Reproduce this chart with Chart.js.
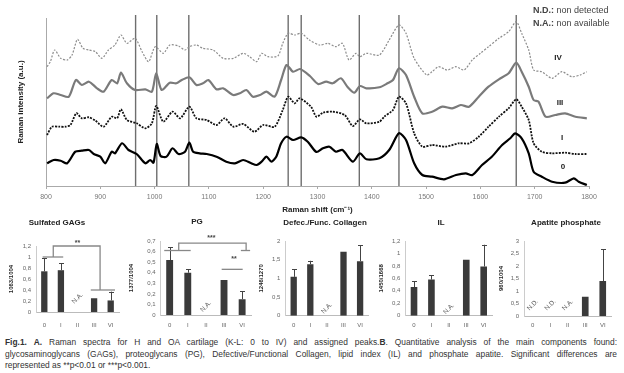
<!DOCTYPE html>
<html><head><meta charset="utf-8">
<script src="https://cdn.jsdelivr.net/npm/chart.js@4.4.0/dist/chart.umd.min.js"></script>
<style>
html,body{margin:0;padding:0;background:#fff;width:624px;height:373px;overflow:hidden;position:relative;font-family:"Liberation Sans",Arial,sans-serif;}
canvas{position:absolute;}
.t{position:absolute;white-space:nowrap;color:#222;font-weight:bold;font-size:8px;transform:translate(-50%,-50%);}
.lg{position:absolute;left:533px;white-space:nowrap;color:#444;font-size:9px;transform:translateY(-50%);}
.cap{position:absolute;left:5px;width:612px;font-size:8.4px;color:#333;line-height:11.5px;}
.cap div{white-space:nowrap;}
.cap .j{text-align:justify;text-align-last:justify;white-space:normal;}
</style></head><body>
<canvas id="main" width="624" height="218" style="left:0;top:0"></canvas>
<canvas id="b1" width="125" height="100" style="left:0;top:230px"></canvas>
<canvas id="b2" width="135" height="100" style="left:120px;top:230px"></canvas>
<canvas id="b3" width="125" height="100" style="left:250px;top:230px"></canvas>
<canvas id="b4" width="127" height="100" style="left:370px;top:230px"></canvas>
<canvas id="b5" width="128" height="100" style="left:490px;top:230px"></canvas>

<div class="lg" style="top:10px"><b>N.D.:</b> non detected</div>
<div class="lg" style="top:23px"><b>N.A.:</b> non available</div>
<div class="t" style="left:558px;top:57px">IV</div>
<div class="t" style="left:560px;top:102px">III</div>
<div class="t" style="left:562px;top:137px">I</div>
<div class="t" style="left:563px;top:166px">0</div>

<div class="t" style="left:57px;top:222px">Sulfated GAGs</div>
<div class="t" style="left:197px;top:221px">PG</div>
<div class="t" style="left:325px;top:222px">Defec./Func. Collagen</div>
<div class="t" style="left:441px;top:222px">IL</div>
<div class="t" style="left:566px;top:222px">Apatite phosphate</div>

<div class="cap" style="top:337px">
<div class="j"><b>Fig.1.</b> <b>A.</b> Raman spectra for H and OA cartilage (K-L: 0 to IV) and assigned peaks.<b>B</b>. Quantitative analysis of the main components found:</div>
<div class="j">glycosaminoglycans (GAGs), proteoglycans (PG), Defective/Functional Collagen, lipid index (IL) and phosphate apatite. Significant differences are</div>
<div>represented as **p&lt;0.01 or ***p&lt;0.001.</div>
</div>

<script>
// ---------- Spectra (A) ----------
const shift0 = [802,814,827,839,854,866,879,888,900,909,921,927,940,952,967,983,992,998,1004,1011,1022,1033,1044,1056,1064,1071,1083,1096,1114,1132,1148,1163,1178,1188,1197,1206,1215,1224,1233,1243,1255,1270,1282,1298,1310,1322,1334,1346,1365,1378,1390,1414,1432,1450,1463,1478,1493,1511,1533,1555,1573,1585,1603,1621,1640,1655,1664,1676,1689,1698,1713,1732,1756,1772,1781,1796];
const int0 = [22.7,26,25.3,22.7,34.3,35.3,36,32,29.3,22.7,34.3,32.7,42.7,36,32,22.7,26,23.3,42,30,29.3,37.7,32,34.3,43.3,34.3,32.7,32,29.3,24.3,22.7,26,22.7,21,24.3,29.3,24.3,29.3,42.7,49.3,46,48.7,44.3,34,37.7,39.3,34.3,36,24.3,32.7,26.7,27.7,36,52.7,46,22.7,11,9.3,6.7,11,12.7,11,21,29.3,41,47.7,52.7,47.7,32.7,14.3,9.3,4.3,3.3,7.7,4.3,1];

const shift1 = [802,811,824,836,845,856,866,879,891,906,921,931,938,949,967,983,995,1003,1016,1033,1047,1064,1077,1096,1114,1129,1145,1163,1184,1200,1221,1236,1246,1258,1267,1288,1298,1310,1328,1350,1365,1378,1390,1414,1423,1439,1450,1463,1478,1493,1511,1536,1560,1579,1597,1615,1634,1652,1666,1676,1689,1698,1713,1732,1756,1775,1796];
const int1 = [51,59.3,59.3,59.3,61,72.7,67.7,68.7,65.3,59.3,69.3,67.7,76.7,66,62.7,57.7,62.7,80,64.3,74.3,67.7,79.3,67.7,66,61,67.7,59.3,62,54.3,61,59.3,76,89.3,82.7,87.7,79.3,69.3,73.3,74.3,71,60,66.7,62.7,64.3,69.3,76,89.3,82.7,52.7,39.3,41,39.3,42.7,42.7,49.3,59.3,69.3,77.7,86.7,79.3,66,42.7,34.3,32.7,33.3,32,32];

const shift3 = [802,814,827,842,855,866,879,894,906,921,931,938,949,964,983,995,1003,1013,1028,1040,1050,1064,1077,1089,1099,1114,1126,1145,1157,1169,1181,1194,1206,1221,1233,1243,1255,1268,1286,1301,1316,1328,1343,1355,1368,1378,1390,1414,1429,1439,1450,1463,1478,1493,1511,1530,1548,1564,1579,1597,1615,1634,1652,1666,1676,1689,1698,1707,1720,1738,1756,1775,1796];
const int3 = [87.7,92.7,91,89.3,106,101,104.3,97.7,94.3,106,102.7,113.3,102.7,96,96.7,94.3,112.7,96,103.3,102.7,106,108.7,101,102.7,106,96.7,97.7,91,92.7,96,89.3,91,94.3,89.3,106,121,114.3,117,110,102,104.3,102.7,107.7,99.3,93.3,100,97.7,98.7,102.7,106,117.7,111,89.3,72.7,74.3,79.3,77.7,81,79.3,89.3,99.3,106.7,112.7,123.3,114.3,99.3,86,84.3,69.3,71,72.7,69.3,67.7];

const shift4 = [802,808,816,827,839,848,858,868,879,891,903,915,927,938,949,964,977,989,1001,1016,1028,1044,1056,1064,1077,1089,1108,1126,1145,1163,1175,1188,1197,1209,1227,1236,1246,1258,1270,1285,1304,1319,1334,1346,1358,1371,1378,1390,1414,1432,1450,1463,1478,1501,1511,1523,1539,1555,1570,1585,1600,1615,1634,1652,1666,1676,1689,1698,1713,1732,1750,1768,1784,1796];
const int4 = [119.3,124.3,136,127.7,126,131,146.7,137.7,136,134.3,127.7,136,141,151,142.7,147.7,134.3,124.3,139.3,132.7,141,140,136,139.3,141,137.7,136,127.7,127.7,132.7,129.3,124.3,132.7,129.3,130,142.7,152.7,151,152.7,146,141,142.7,139.3,142.7,126,132.7,129.3,132.7,131,146,161,152.7,127.7,111,114.3,119.3,116,119.3,116,126,132.7,139.3,147.7,154.3,164.3,152.7,136,116,114.3,107.7,114.3,109.3,111,114.3];

const peakShifts = [965,1004,1063,1246,1270,1377,1450,1666];

const pts = (xs, ys) => xs.map((x,i)=>({x:x,y:ys[i]}));

const peakPlugin = {
  id:'peaks',
  beforeDatasetsDraw(chart){
    const {ctx, chartArea, scales:{x}} = chart;
    ctx.save();
    ctx.strokeStyle='#6e6e6e'; ctx.lineWidth=1.4;
    peakShifts.forEach(p=>{
      const px = x.getPixelForValue(p);
      ctx.beginPath(); ctx.moveTo(px, chartArea.top-3); ctx.lineTo(px, chartArea.bottom); ctx.stroke();
    });
    ctx.restore();
  }
};

new Chart(document.getElementById('main'), {
  type:'line',
  data:{datasets:[
    {label:'IV', data:pts(shift4,int4), borderColor:'#8c8c8c', borderWidth:1.2, borderDash:[2,1.5]},
    {label:'III', data:pts(shift3,int3), borderColor:'#7a7a7a', borderWidth:2.2},
    {label:'I', data:pts(shift1,int1), borderColor:'#111', borderWidth:1.8, borderDash:[2,1.2]},
    {label:'0', data:pts(shift0,int0), borderColor:'#000', borderWidth:2.2}
  ]},
  options:{
    responsive:false, animation:false,
    layout:{padding:{left:0,top:18,right:35,bottom:0}},
    plugins:{legend:{display:false}, tooltip:{enabled:false}},
    elements:{point:{radius:0}, line:{tension:0.25}},
    scales:{
      x:{type:'linear', min:800, max:1800,
         ticks:{stepSize:100, color:'#777', font:{size:7, family:'Liberation Sans'}, padding:4, maxRotation:0, autoSkip:false, callback:v=>String(v)},
         grid:{drawOnChartArea:false, drawTicks:true, tickLength:3, color:'#aaa'},
         border:{color:'#aaa'},
         title:{display:true, text:'Raman shift (cm\u207B\u00B9)', color:'#222', font:{size:8, weight:'bold', family:'Liberation Sans'}, padding:{top:0,bottom:3}},
         afterFit:s=>{s.height=32; s.paddingLeft=0; s.paddingRight=0;}},
      y:{min:0, max:168, ticks:{display:false}, grid:{display:false}, border:{color:'#aaa'},
         title:{display:true, text:'Raman intensity (a.u.)', color:'#222', font:{size:8, weight:'bold', family:'Liberation Sans'}, padding:{top:16,bottom:0}},
         afterFit:s=>{s.width=46; s.paddingTop=0; s.paddingBottom=0;}}
    }
  },
  plugins:[peakPlugin]
});

// ---------- Quantitative analysis (B) ----------
const stages = ['0','I','II','III','VI'];
const gagValues = [0.74, 0.76, null, 0.25, 0.21];
const gagErrors = [0.24, 0.13, 0, 0, 0.16];
const pgValues = [0.52, 0.40, null, 0.33, 0.15];
const pgErrors = [0.12, 0.035, 0, 0, 0.075];
const colValues = [1.04, 1.38, null, 1.71, 1.46];
const colErrors = [0.20, 0.09, 0, 0, 0.43];
const ilValues = [0.46, 0.58, null, 0.90, 0.79];
const ilErrors = [0.09, 0.07, 0, 0, 0.35];
const apValues = [null, null, null, 0.77, 1.40];
const apErrors = [0, 0, 0, 0, 1.27];

const fmt = v => (Math.round(v*10)/10).toString().replace('.', ',');

function annoPlugin(cfg){
  return {
    id:'anno',
    afterDatasetsDraw(chart){
      const {ctx, scales:{x,y}} = chart;
      ctx.save();
      // error bars (upper)
      ctx.strokeStyle = '#444'; ctx.lineWidth = 1;
      cfg.values.forEach((v,i)=>{
        const e = cfg.errors[i];
        if (v==null || !e) return;
        const px = Math.round(x.getPixelForValue(i))+0.5;
        const y1 = y.getPixelForValue(v), y2 = y.getPixelForValue(v+e);
        ctx.beginPath(); ctx.moveTo(px,y1); ctx.lineTo(px,y2);
        ctx.moveTo(px-2.5,Math.round(y2)+0.5); ctx.lineTo(px+2.5,Math.round(y2)+0.5); ctx.stroke();
      });
      // missing labels
      ctx.fillStyle = '#555'; ctx.font = '6.5px "Liberation Sans"';
      ctx.textAlign='center'; ctx.textBaseline='middle';
      (cfg.missing||[]).forEach(([i,txt,v])=>{
        ctx.save(); ctx.translate(x.getPixelForValue(i), y.getPixelForValue(v));
        ctx.rotate(-Math.PI/4); ctx.fillText(txt,0,0); ctx.restore();
      });
      // significance brackets
      ctx.strokeStyle='#888'; ctx.lineWidth=1.3;
      (cfg.lines||[]).forEach(line=>{
        ctx.beginPath();
        line.forEach(([c,v],k)=>{
          const px=x.getPixelForValue(c), py=y.getPixelForValue(v);
          if(k===0) ctx.moveTo(px,py); else ctx.lineTo(px,py);
        });
        ctx.stroke();
      });
      ctx.fillStyle='#444'; ctx.font='bold 7px "Liberation Sans"';
      (cfg.stars||[]).forEach(([c,v,t])=>{
        ctx.fillText(t, x.getPixelForValue(c), y.getPixelForValue(v));
      });
      ctx.restore();
    }
  };
}

function barChart(cfg){
  const cx = cfg.cx, cy = 230, cw = cfg.cw, ch = 100;
  const [pl, pt, pr, pb] = cfg.plot;
  new Chart(document.getElementById(cfg.id), {
    type:'bar',
    data:{labels:stages, datasets:[{data:cfg.values, backgroundColor:'#3a3a3a', barPercentage:0.38, categoryPercentage:1}]},
    options:{
      responsive:false, animation:false,
      layout:{padding:{left:0, top:pt-cy, right:cx+cw-pr, bottom:0}},
      plugins:{legend:{display:false}, tooltip:{enabled:false}},
      scales:{
        x:{grid:{display:false, drawTicks:false}, border:{color:'#bbb'},
           ticks:{color:'#666', font:{size:6, family:'Liberation Sans'}, padding:325-3.6-pb, maxRotation:0, autoSkip:false},
           afterFit:s=>{s.height=cy+ch-pb; s.paddingLeft=0; s.paddingRight=0;}},
        y:{min:0, max:cfg.max, grid:{display:false, drawTicks:false}, border:{color:'#ccc'},
           ticks:{stepSize:cfg.step, color:'#666', font:{size:6, family:'Liberation Sans'}, padding:5, callback:v=>fmt(v)},
           title:{display:true, text:cfg.ytitle, color:'#222', font:{size:6, weight:'bold', family:'Liberation Sans'}, padding:{top:8,bottom:0}},
           afterFit:s=>{s.width=pl-cx; s.paddingTop=0; s.paddingBottom=0;}}
      }
    },
    plugins:[annoPlugin(cfg)]
  });
}

barChart({id:'b1', cx:0, cw:125, plot:[36,246,119,312], max:1.2, step:0.2, ytitle:'1063/1004',
  values:gagValues, errors:gagErrors, missing:[[2,'N.A.',0.25]],
  lines:[[[-0.1,1.0],[1.14,1.0]], [[0.54,1.0],[0.54,1.2],[3.36,1.2],[3.36,0.4]], [[2.8,0.4],[4.26,0.4]]],
  stars:[[2.0,1.25,'**']]});
barChart({id:'b2', cx:120, cw:135, plot:[160.6,241,251.2,315], max:0.7, step:0.1, ytitle:'1377/1004',
  values:pgValues, errors:pgErrors, missing:[[2,'N.A.',0.08]],
  lines:[[[-0.3,0.61],[1.16,0.61]], [[0.5,0.61],[0.5,0.68],[4.22,0.68],[4.22,0.61]], [[3.93,0.61],[4.44,0.61]], [[2.87,0.432],[4.03,0.432]]],
  stars:[[2.3,0.73,'***'],[3.55,0.527,'**']]});
barChart({id:'b3', cx:250, cw:125, plot:[285.4,241,368.4,315.7], max:2, step:0.5, ytitle:'1246/1270',
  values:colValues, errors:colErrors, missing:[[2,'N.A.',0.2]]});
barChart({id:'b4', cx:370, cw:127, plot:[405.3,241,492.4,315.7], max:1.2, step:0.2, ytitle:'1450/1668',
  values:ilValues, errors:ilErrors, missing:[[2,'N.A.',0.11]]});
barChart({id:'b5', cx:490, cw:128, plot:[524,241,611.5,316], max:3, step:0.5, ytitle:'960/1004',
  values:apValues, errors:apErrors, missing:[[0,'N.D.',0.44],[1,'N.D.',0.44],[2,'N.A.',0.44]]});
</script>
</body></html>
